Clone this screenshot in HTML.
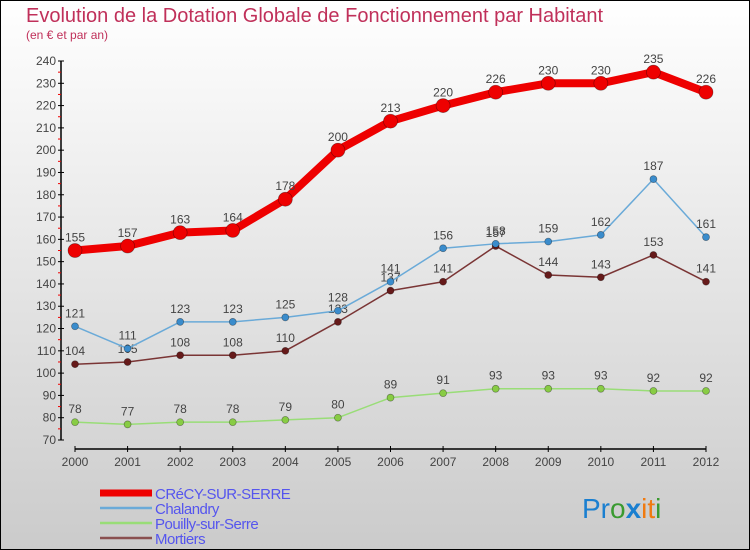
<!DOCTYPE html>
<html><head><meta charset="utf-8"><style>
body{margin:0;width:750px;height:550px;overflow:hidden}
svg{display:block;font-family:"Liberation Sans","DejaVu Sans",sans-serif}
</style></head><body>
<svg id="c" width="750" height="550">
<defs><linearGradient id="bg" x1="0" y1="0" x2="0" y2="1"><stop offset="0" stop-color="#ffffff"/><stop offset="1" stop-color="#cbcbcb"/></linearGradient></defs>
<rect x="0.5" y="0.5" width="749" height="549" fill="url(#bg)" stroke="#000"/>
<text x="26" y="22" font-size="20" fill="#c0305a">Evolution de la Dotation Globale de Fonctionnement par Habitant</text>
<text x="26" y="39" font-size="12" fill="#c0305a">(en € et par an)</text>
<g id="axes"></g><g id="series"></g><g id="legend"></g>
<text x="582" y="518" font-size="28"><tspan fill="#1a7fd0">Pr</tspan><tspan fill="#3a9a30">o</tspan><tspan fill="#1a7fd0" font-weight="bold">x</tspan><tspan fill="#f07a10">it</tspan><tspan fill="#3a9a30">i</tspan></text>
</svg>
<script>
const years=[2000,2001,2002,2003,2004,2005,2006,2007,2008,2009,2010,2011,2012];
const crecy=[155,157,163,164,178,200,213,220,226,230,230,235,226];
const chalandry=[121,111,123,123,125,128,141,156,158,159,162,187,161];
const pouilly=[78,77,78,78,79,80,89,91,93,93,93,92,92];
const mortiers=[104,105,108,108,110,123,137,141,157,144,143,153,141];
const yTicks=[70,80,90,100,110,120,130,140,150,160,170,180,190,200,210,220,230,240];
const NS="http://www.w3.org/2000/svg";
const X=i=>75+i*(706-75)/12, Y=v=>440-(v-70)*(440-61)/170;
function mk(t,a,p){const e=document.createElementNS(NS,t);for(const k in a)e.setAttribute(k,a[k]);if(p)p.appendChild(e);return e;}
const ax=document.getElementById('axes');
let l=mk('line',{x1:61,y1:Y(240),x2:61,y2:440,stroke:'#000','stroke-width':1.5},ax);


l=mk('line',{x1:75,y1:449,x2:706,y2:449,stroke:'#000','stroke-width':1.5},ax);


yTicks.forEach((v,i)=>{mk('line',{x1:58,y1:Y(v),x2:64,y2:Y(v),stroke:'#000'},ax);
 if(i<yTicks.length-1)mk('line',{x1:58,y1:Y(v+5),x2:61,y2:Y(v+5),stroke:'#e00'},ax);
 const t=mk('text',{x:56,y:Y(v)+4,'font-size':12,fill:'#444','text-anchor':'end'},ax);t.textContent=v;
 
 });
years.forEach((y,i)=>{mk('line',{x1:X(i),y1:446,x2:X(i),y2:452,stroke:'#000'},ax);
 const t=mk('text',{x:X(i),y:466,'font-size':12,fill:'#444','text-anchor':'middle'},ax);t.textContent=y;
 
 });
const sg=document.getElementById('series');
function draw(d,col,dot,w,r,name){const g=mk('g',{},sg);
 
 
 mk('polyline',{points:d.map((v,i)=>X(i)+','+Y(v)).join(' '),fill:'none',stroke:col,'stroke-width':w,'stroke-linejoin':'round'},g);
 d.forEach((v,i)=>{const c=mk('circle',{cx:X(i),cy:Y(v),r:r,fill:dot,stroke:'rgba(0,0,0,0.4)','stroke-width':0.7},g);
  
  
  const t=mk('text',{x:X(i),y:Y(v)-9,'font-size':12,fill:'#444','text-anchor':'middle'},g);t.textContent=v;
  
  });}
draw(pouilly,'#99dd77','#88cc44',1.5,3.5,'pouilly');
draw(mortiers,'#7a3535','#661a1a',1.5,3.5,'mortiers');
draw(chalandry,'#6aaad8','#3a8ccc',1.5,3.5,'chalandry');
draw(crecy,'#ee0000','#ee0000',8,7,'crecy');
const lg=document.getElementById('legend');
[['CRéCY-SUR-SERRE','#ee0000',7],['Chalandry','#6aaad8',2.5],['Pouilly-sur-Serre','#99dd77',2.5],['Mortiers','#8a5050',2.5]].forEach((e,i)=>{
 const y=493+i*15;const g=mk('g',{},lg);
 
 
 mk('line',{x1:100,y1:y,x2:152,y2:y,stroke:e[1],'stroke-width':e[2]},g);
 const t=mk('text',{x:155,y:y+6,'font-size':15,fill:'#5555ee','letter-spacing':'-0.5'},g);t.textContent=e[0];});
</script>
</body></html>
